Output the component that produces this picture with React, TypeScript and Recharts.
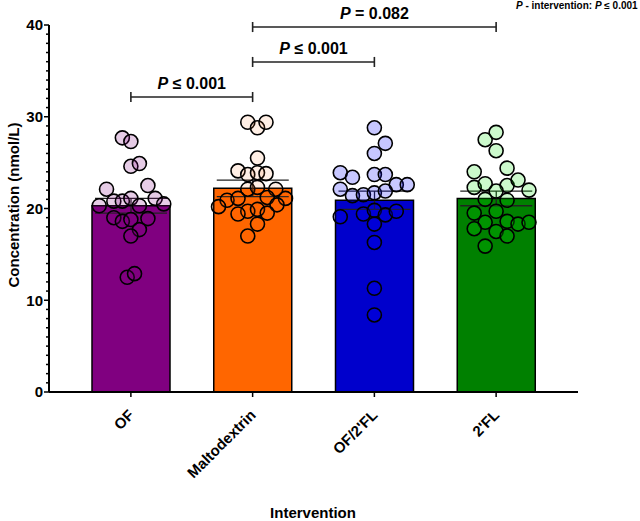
import {
  ComposedChart,
  Bar,
  Cell,
  ErrorBar,
  Scatter,
  XAxis,
  YAxis,
  ReferenceLine,
} from "recharts";

const categories = ["OF", "Maltodextrin", "OF/2'FL", "2'FL"];
const means = [20.3, 22.2, 20.9, 21.1];
const sems = [0.8, 0.9, 1.0, 0.8];
const barColors = ["#800080", "#FF6600", "#0000CC", "#008000"];
const dotColors = ["#800080", "#FF6600", "#0000FF", "#00E000"];
const dotOpacity = [0.2, 0.1, 0.22, 0.2];

// individual subjects, value + horizontal jitter (in category widths)
const ofValues = [27.7, 27.3, 24.6, 24.9, 22.1, 22.5, 20.8, 20.8, 21.1, 21.1, 20.5, 20.3, 20.3, 19.0, 18.6, 18.8, 18.9, 17.7, 17.0, 12.5, 12.9];
const ofJitter = [-0.07, 0, 0, 0.07, -0.2, 0.14, -0.14, -0.07, 0, 0.2, 0.27, -0.26, 0.07, -0.14, -0.07, 0, 0.14, 0.07, 0, -0.03, 0.03];

const maltoValues = [29.4, 28.8, 29.4, 25.5, 24.1, 23.7, 23.9, 23.8, 22.1, 22.3, 22.1, 20.9, 21.1, 20.2, 21.2, 21.1, 20.4, 19.7, 19.9, 19.4, 19.5, 18.3, 17.0];
const maltoJitter = [-0.04, 0.04, 0.11, 0.04, -0.12, -0.04, 0.04, 0.11, -0.04, 0.04, 0.19, -0.21, -0.12, -0.28, 0.12, 0.27, 0.2, -0.04, 0.04, -0.12, 0.12, 0.04, -0.04];

const of2flValues = [28.8, 27.1, 26.0, 23.9, 23.4, 23.7, 23.7, 22.6, 22.6, 22.1, 21.4, 21.5, 21.7, 21.9, 19.1, 19.4, 19.8, 19.3, 19.7, 18.3, 16.3, 11.3, 8.4];
const of2flJitter = [0, 0.09, 0, -0.28, -0.18, 0, 0.09, 0.18, 0.27, -0.28, -0.18, -0.09, 0, 0.09, -0.28, -0.09, 0, 0.09, 0.18, 0, 0, 0, 0];

const flValues = [27.5, 28.3, 26.3, 24.0, 24.4, 22.3, 22.7, 22.5, 23.1, 22.0, 21.9, 21.0, 20.9, 19.5, 19.7, 18.5, 18.6, 18.3, 18.5, 17.8, 17.5, 17.0, 15.9];
const flJitter = [-0.09, 0, 0, -0.18, 0.09, -0.18, -0.09, 0.09, 0.18, 0.27, 0, -0.09, 0.09, -0.18, 0, -0.09, 0.09, 0.18, 0.27, -0.18, 0, 0.09, -0.09];

const groupValues = [ofValues, maltoValues, of2flValues, flValues];
const groupJitter = [ofJitter, maltoJitter, of2flJitter, flJitter];

// pairwise comparisons shown as brackets
const compFrom = [0, 1, 1];
const compTo = [1, 2, 3];
const compText = ["≤ 0.001", "≤ 0.001", "= 0.082"];
const compLevel = [32.15, 35.97, 39.78];

const yTicks = Array.from({ length: 41 }, (_, i) => i);

const barData = categories.map((name, i) => ({
  name,
  mean: means[i],
  sem: sems[i],
}));

const FONT = '"Liberation Sans", Arial, sans-serif';

function YTick({ x, y, payload }: any) {
  const major = payload.value % 10 === 0;
  return (
    <g>
      <line x1={x - (major ? 5 : 3)} x2={x} y1={y} y2={y} stroke="#000" strokeWidth={1.5} />
      {major && (
        <text x={x - 6} y={y} dy="0.36em" textAnchor="end" fontSize={15} fontWeight="bold" fill="#000" fontFamily={FONT}>
          {payload.value}
        </text>
      )}
    </g>
  );
}

function XTick({ x, y, payload }: any) {
  const tx = x + 4;
  const ty = y + 19;
  return (
    <text
      x={tx}
      y={ty}
      transform={`rotate(-45 ${tx} ${ty})`}
      textAnchor="end"
      fontSize={15}
      fontWeight="bold"
      fill="#000"
      fontFamily={FONT}
    >
      {payload.value}
    </text>
  );
}

function Dot(color: string, opacity: number) {
  return (props: any) => (
    <circle
      cx={props.cx}
      cy={props.cy}
      r={7}
      fill={color}
      fillOpacity={opacity}
      stroke="#000"
      strokeWidth={1.6}
    />
  );
}

function bracketLabel(text: string) {
  return ({ viewBox }: any) => (
    <text
      x={viewBox.x + viewBox.width / 2}
      y={viewBox.y - 8}
      textAnchor="middle"
      fontSize={16}
      fontWeight="bold"
      fill="#000"
      fontFamily={FONT}
    >
      <tspan fontStyle="italic">P</tspan> {text}
    </text>
  );
}

export default function App() {
  const bracketStroke = { stroke: "#222", strokeWidth: 1.6 };
  return (
    <div style={{ position: "absolute", left: 0, top: 0, width: 640, height: 521, background: "#fff", fontFamily: FONT }}>
      <ComposedChart
        width={640}
        height={521}
        data={barData}
        margin={{ top: 25, right: 62, bottom: 0, left: 0 }}
      >
        <XAxis
          xAxisId="cat"
          dataKey="name"
          interval={0}
          height={129}
          padding={{ left: 21, right: 21 }}
          tickSize={5}
          tickMargin={0}
          tick={<XTick />}
          axisLine={{ stroke: "#000", strokeWidth: 2 }}
          tickLine={{ stroke: "#000", strokeWidth: 1.5 }}
          label={{
            content: () => (
              <text x={313} y={518} textAnchor="middle" fontSize={15} fontWeight="bold" fill="#000" fontFamily={FONT}>
                Intervention
              </text>
            ),
          }}
        />
        <XAxis
          xAxisId="num"
          dataKey="x"
          type="number"
          domain={[-0.5, 3.5]}
          allowDataOverflow
          padding={{ left: 21, right: 21 }}
          hide
        />
        <YAxis
          width={49}
          domain={[0, 40]}
          ticks={yTicks}
          interval={0}
          tickSize={0}
          tickMargin={0}
          tick={<YTick />}
          axisLine={{ stroke: "#000", strokeWidth: 2 }}
          label={{
            content: () => (
              <text
                x={13}
                y={205}
                transform="rotate(-90 13 205)"
                textAnchor="middle"
                dominantBaseline="central"
                fontSize={15}
                fontWeight="bold"
                fill="#000"
                fontFamily={FONT}
              >
                Concentration (nmol/L)
              </text>
            ),
          }}
        />
        <Bar xAxisId="cat" dataKey="mean" barSize={78} stroke="#000" strokeWidth={1.5} isAnimationActive={false}>
          {barData.map((_, i) => (
            <Cell key={i} fill={barColors[i]} />
          ))}
          <ErrorBar dataKey="sem" width={36} stroke="#222" strokeWidth={1.3} direction="y" />
        </Bar>
        {groupValues.map((vals, g) => (
          <Scatter
            key={g}
            xAxisId="num"
            data={vals.map((v, k) => ({ x: g + groupJitter[g][k], y: v }))}
            dataKey="y"
            shape={Dot(dotColors[g], dotOpacity[g])}
            isAnimationActive={false}
          />
        ))}
        {compFrom.map((from, c) => (
          <ReferenceLine
            key={`b${c}`}
            xAxisId="num"
            ifOverflow="visible"
            segment={[
              { x: from, y: compLevel[c] },
              { x: compTo[c], y: compLevel[c] },
            ]}
            {...bracketStroke}
            label={{ content: bracketLabel(compText[c]) }}
          />
        ))}
        {compFrom.map((from, c) =>
          [from, compTo[c]].map((end) => (
            <ReferenceLine
              key={`t${c}-${end}`}
              xAxisId="num"
              ifOverflow="visible"
              segment={[
                { x: end, y: compLevel[c] - 0.55 },
                { x: end, y: compLevel[c] + 0.55 },
              ]}
              {...bracketStroke}
            />
          ))
        )}
      </ComposedChart>
      <div
        style={{
          position: "absolute",
          left: 516,
          top: 0,
          fontSize: 10,
          fontWeight: "bold",
          whiteSpace: "nowrap",
          lineHeight: "12px",
        }}
      >
        <i>P</i> - intervention: <i>P</i> ≤ 0.001
      </div>
    </div>
  );
}
